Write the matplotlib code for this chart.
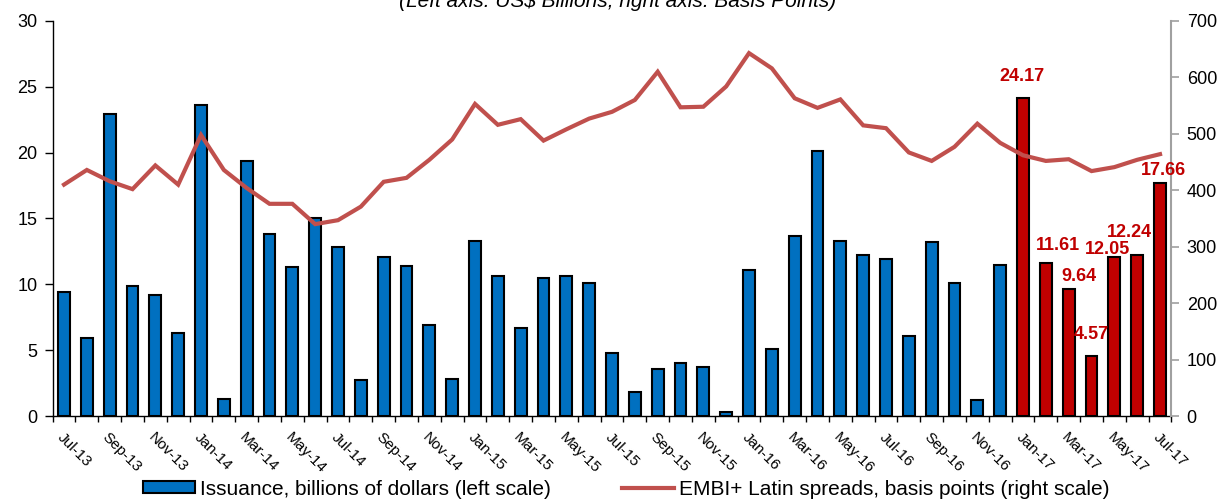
import numpy as np
import matplotlib
matplotlib.use("Agg")
import matplotlib.pyplot as plt
from matplotlib.patches import Patch
from matplotlib.lines import Line2D

plt.rcParams['font.family'] = ['Liberation Sans', 'DejaVu Sans']

# Monthly categories, Jul-2013 .. Jul-2017
months = [
    "Jul-13", "Aug-13", "Sep-13", "Oct-13", "Nov-13", "Dec-13",
    "Jan-14", "Feb-14", "Mar-14", "Apr-14", "May-14", "Jun-14",
    "Jul-14", "Aug-14", "Sep-14", "Oct-14", "Nov-14", "Dec-14",
    "Jan-15", "Feb-15", "Mar-15", "Apr-15", "May-15", "Jun-15",
    "Jul-15", "Aug-15", "Sep-15", "Oct-15", "Nov-15", "Dec-15",
    "Jan-16", "Feb-16", "Mar-16", "Apr-16", "May-16", "Jun-16",
    "Jul-16", "Aug-16", "Sep-16", "Oct-16", "Nov-16", "Dec-16",
    "Jan-17", "Feb-17", "Mar-17", "Apr-17", "May-17", "Jun-17",
    "Jul-17",
]

# Bond issuance, US$ billions
issuance = [
    9.4, 5.9, 22.9, 9.9, 9.2, 6.3,
    23.6, 1.3, 19.4, 13.8, 11.3, 15.0,
    12.8, 2.7, 12.1, 11.4, 6.9, 2.8,
    13.3, 10.6, 6.7, 10.5, 10.6, 10.1,
    4.8, 1.8, 3.6, 4.0, 3.7, 0.3,
    11.1, 5.1, 13.7, 20.1, 13.3, 12.2,
    11.9, 6.1, 13.2, 10.1, 1.2, 11.5,
    24.17, 11.61, 9.64, 4.57, 12.05, 12.24,
    17.66,
]

# EMBI+ Latin spreads, basis points
spreads = [
    410, 436, 416, 402, 444, 410,
    498, 436, 404, 376, 376, 340,
    347, 371, 415, 422, 454, 490,
    553, 516, 526, 488, 508, 527,
    539, 560, 610, 547, 548, 584,
    643, 616, 563, 546, 561, 515,
    510, 467, 452, 477, 518, 484,
    462, 452, 455, 434, 441, 454,
    464,
]

# First month of the highlighted (current year) period
highlight_start = "Jan-17"

BLUE = "#0070C0"
DARK_RED = "#C00000"
LINE_RED = "#C0504D"

x = np.arange(len(months))
start = months.index(highlight_start)
bar_colors = [BLUE if i < start else DARK_RED for i in x]

fig = plt.figure(figsize=(12.26, 4.99), dpi=100)
ax = fig.add_axes([0.0429, 0.1663, 0.9126, 0.7917])
ax2 = ax.twinx()

ax.bar(x, issuance, width=0.52, color=bar_colors, edgecolor="black",
       linewidth=1.5, zorder=2)
ax2.plot(x, spreads, color=LINE_RED, linewidth=3, solid_joinstyle="miter",
         zorder=3)

ax.set_xlim(-0.5, len(months) - 0.5)
ax.set_ylim(0, 30)
ax.set_yticks(np.arange(0, 31, 5))
ax2.set_ylim(0, 700)
ax2.set_yticks(np.arange(0, 701, 100))

# category axis: ticks between months, labels every second month
ax.set_xticks(x[::2])
ax.set_xticklabels(months[::2], rotation=-45, ha="left", va="top",
                   rotation_mode="anchor", fontsize=11)
ax.set_xticks(np.arange(-0.5, len(months), 1), minor=True)
ax.tick_params(axis="x", which="major", length=0, pad=10)
ax.tick_params(axis="x", which="minor", length=4, width=1, color="black",
               direction="out")
ax.tick_params(axis="y", length=6, width=1, direction="out", labelsize=13,
               pad=5)
ax2.tick_params(axis="y", length=6, width=1.2, direction="out",
                labelsize=13, colors="#A0A0A0", labelcolor="black", pad=5)

for s in ("top", "right"):
    ax.spines[s].set_visible(False)
for s in ("top", "left", "bottom"):
    ax2.spines[s].set_visible(False)
ax2.spines["right"].set_color("#A0A0A0")
ax2.spines["right"].set_linewidth(1.5)
ax.spines["left"].set_linewidth(1)
ax.spines["bottom"].set_linewidth(1)

# value labels for the highlighted months (offsets in pixels)
label_offsets = [(-1, 21), (12, 18), (10, 13), (0, 21), (-7, 8), (-8, 22),
                 (3, 13)]
for (dx, dy), i in zip(label_offsets, range(start, len(months))):
    ax2.annotate(f"{issuance[i]:.2f}", xy=(x[i], issuance[i]),
                 xycoords=ax.transData, xytext=(dx, dy),
                 textcoords="offset pixels", ha="center", va="center",
                 fontsize=13, fontweight="bold", color=DARK_RED, zorder=5)

fig.text(0.504, 1 - 7 / 499, "(Left axis: US$ Billions; right axis: Basis Points)",
         ha="center", va="baseline", fontsize=15, style="italic")

handles = [
    Patch(facecolor=BLUE, edgecolor="black", linewidth=1.5),
    Line2D([0], [0], color=LINE_RED, linewidth=3),
]
labels = [
    "Issuance, billions of dollars (left scale)",
    "EMBI+ Latin spreads, basis points (right scale)",
]
fig.legend(handles, labels, loc="center", bbox_to_anchor=(0.511, 0.02),
           ncol=2, frameon=False, fontsize=15, handlelength=2.5,
           handleheight=0.55, handletextpad=0.25, columnspacing=3.4,
           borderpad=0, borderaxespad=0)

fig.savefig("out.png", dpi=100)
